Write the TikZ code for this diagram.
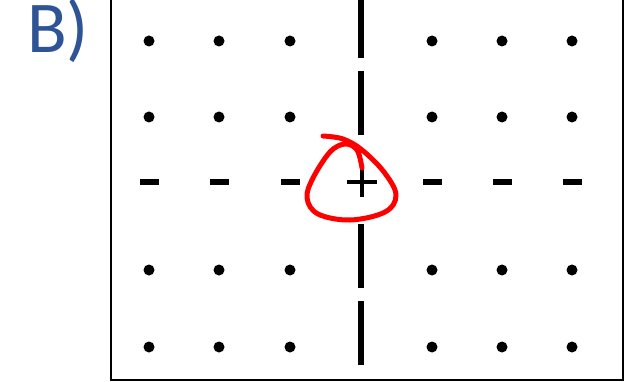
\documentclass[tikz,border=0pt]{standalone}
\usepackage{fontspec}
\setmainfont{Carlito}
\usepackage{xcolor}
\definecolor{labelblue}{rgb}{0.18, 0.33, 0.59}
\definecolor{markred}{rgb}{1.0, 0.0, 0.0}

\begin{document}
\begin{tikzpicture}[x=1pt, y=-1pt]
    \useasboundingbox (0,0) rectangle (631,382);

    % Label
    \node[labelblue, anchor=base, inner sep=0pt, font=\fontsize{73}{73}\selectfont] (lbl) at (58,53) {B)};

    % Frame
    \draw[line width=2.5pt] (111,-10) -- (111,380) -- (623,380) -- (623,-10);

    % Dots
    \foreach \x in {149,219,290,432,502,572}
        \foreach \y in {41,117,270,347}
            \fill (\x,\y) circle (5.5pt);

    % Horizontal dashes
    \foreach \x in {149,219,290,432,502,572}
        \fill (\x-9.5,179) rectangle (\x+9.5,185);

    % Vertical dashed line
    \foreach \a/\b in {-10/58, 71/135, 224/288, 301/365}
        \fill (358,\a) rectangle (364,\b);

    % Plus
    \draw[line width=4pt] (347,182) -- (377,182);
    \draw[line width=4pt] (362,167) -- (362,197);

    % Red loop
    \draw[markred, line width=5pt, line cap=round, line join=round]
        plot[smooth, tension=0.6] coordinates {(323,136) (343,139) (362,150) (384,172) (396,195) (385,212) (350,220) (318,214) (307,198) (313,178) (330,152) (345,144) (357,150) (362,168)};
\end{tikzpicture}
\end{document}
